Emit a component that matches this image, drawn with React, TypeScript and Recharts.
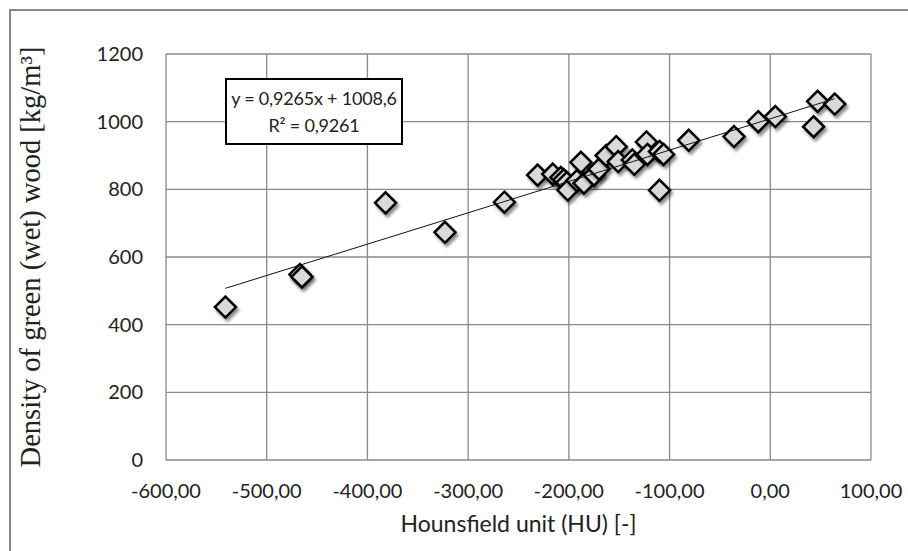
import React from 'react';
import { ScatterChart, Scatter, XAxis, YAxis, CartesianGrid } from 'recharts';

// Hounsfield unit (HU) of each sample
const huValues = [
  -541, -467, -465, -382, -323, -264, -231, -216, -208, -205, -202, -201,
  -188, -192, -185, -175, -170, -163, -153, -151, -137, -135, -123, -122,
  -110, -106, -110, -81, -36, -12, 5, 43, 47, 64,
];
// Density of green (wet) wood [kg/m3] of each sample
const densityValues = [
  452, 548, 541, 760, 673, 762, 842, 845, 835, 828, 820, 798,
  880, 826, 818, 842, 860, 900, 926, 882, 887, 874, 940, 903,
  912, 903, 797, 945, 956, 1000, 1015, 985, 1060, 1052,
];

const xTicks = [-600, -500, -400, -300, -200, -100, 0, 100];
const yTicks = [0, 200, 400, 600, 800, 1000, 1200];

const trendSlope = 0.9265;
const trendIntercept = 1008.6;
const trendXRange = [-541, 64];

const equationText = 'y = 0,9265x + 1008,6';
const r2Text = 'R² = 0,9261';
const xTitle = 'Hounsfield unit (HU) [-]';
const yTitle = 'Density of green (wet) wood [kg/m³]';

const points = huValues.map((x, i) => ({ x, y: densityValues[i] }));
const trendPoints = trendXRange.map((x) => ({ x, y: trendSlope * x + trendIntercept }));

const SANS = "Lato, 'Open Sans', sans-serif";

const Diamond = (props: any) => {
  const { cx, cy } = props;
  if (cx == null || cy == null) return <g />;
  const r = 10.5;
  return (
    <polygon
      points={`${cx},${cy - r} ${cx + r},${cy} ${cx},${cy + r} ${cx - r},${cy}`}
      fill="#d9d9d9"
      stroke="#000"
      strokeWidth={2.5}
      strokeLinejoin="miter"
      style={{ filter: 'drop-shadow(2px 3px 1.5px rgba(0,0,0,0.45))' }}
    />
  );
};

const XTitle = (props: any) => {
  const vb = props.viewBox || {};
  return (
    <text
      x={vb.x + vb.width / 2}
      y={532}
      textAnchor="middle"
      fontFamily={SANS}
      fontSize={23}
      fill="#222"
    >
      {xTitle}
    </text>
  );
};

const YTitle = () => {
  const cx = 30;
  const cy = 257;
  return (
    <text
      x={cx}
      y={cy}
      transform={`rotate(-90 ${cx} ${cy})`}
      textAnchor="middle"
      dominantBaseline="central"
      fontFamily="'Liberation Serif', 'Times New Roman', serif"
      fontSize={28.5}
      fill="#222"
    >
      {yTitle}
    </text>
  );
};

export default function App() {
  return (
    <div
      style={{
        position: 'fixed',
        left: 0,
        top: 0,
        width: 908,
        height: 551,
        overflow: 'hidden',
        background: '#fff',
      }}
    >
      <div
        style={{
          position: 'absolute',
          left: 9,
          top: 9,
          width: 960,
          height: 600,
          border: '2px solid #888',
          boxSizing: 'border-box',
        }}
      />
      <div style={{ position: 'absolute', left: 0, top: 0 }}>
        <ScatterChart width={908} height={551} margin={{ top: 54, right: 37, bottom: 0, left: 0 }}>
          <CartesianGrid stroke="#8a8a8a" strokeWidth={1.3} />
          <XAxis
            type="number"
            dataKey="x"
            domain={[-600, 100]}
            ticks={xTicks}
            tickFormatter={(v: number) => v.toFixed(2).replace('.', ',')}
            height={91}
            axisLine={false}
            tickLine={false}
            tickSize={0}
            tickMargin={24}
            tick={{ fontFamily: SANS, fontSize: 20, fill: '#222' }}
            interval={0}
            label={<XTitle />}
          />
          <YAxis
            type="number"
            dataKey="y"
            domain={[0, 1200]}
            ticks={yTicks}
            width={166}
            axisLine={false}
            tickLine={false}
            tickSize={0}
            tickMargin={23}
            tick={{ fontFamily: SANS, fontSize: 20, fill: '#222' }}
            interval={0}
            label={<YTitle />}
          />
          <Scatter data={points} shape={<Diamond />} isAnimationActive={false} />
          <Scatter
            data={trendPoints}
            line={{ stroke: '#111', strokeWidth: 1 }}
            shape={() => <g />}
            isAnimationActive={false}
          />
        </ScatterChart>
      </div>
      <div
        style={{
          position: 'absolute',
          left: 225,
          top: 78,
          width: 178,
          height: 67,
          border: '2px solid #000',
          boxSizing: 'border-box',
          background: '#fff',
          fontFamily: SANS,
          fontSize: 18,
          letterSpacing: -0.2,
          whiteSpace: 'nowrap',
          color: '#222',
          textAlign: 'center',
          lineHeight: '27px',
          paddingTop: 5,
        }}
      >
        <div>{equationText}</div>
        <div>{r2Text}</div>
      </div>
    </div>
  );
}
